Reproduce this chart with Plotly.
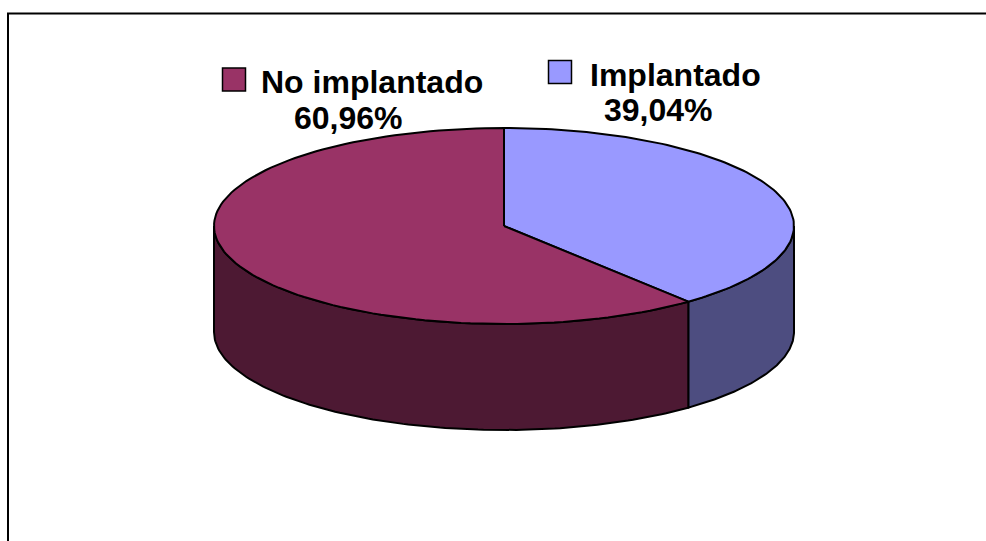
import numpy as np
import plotly.graph_objects as go

labels = ["Implantado", "No implantado"]
shares = [39.04, 60.96]
top_colors = ["#9999FF", "#993366"]
side_colors = ["#4D4D80", "#4D1933"]

# pie geometry in page pixels
cx, cy, rx, ry, depth = 504, 226, 290, 98, 106


def rim(a0, a1, n=120):
    t = np.radians(np.linspace(a0, a1, n))
    return cx + rx * np.sin(t), cy - ry * np.cos(t)


fig = go.Figure()
outline = dict(color="black", width=2)

# start at 12 o'clock and go clockwise
start = 0
for name, share, top, side in zip(labels, shares, top_colors, side_colors):
    end = start + share * 3.6
    # visible wall is only the front half of the rim
    a0, a1 = max(start, 90), min(end, 270)
    if a1 > a0:
        x, y = rim(a0, a1)
        fig.add_trace(go.Scatter(
            x=np.r_[x, x[::-1], x[0]], y=np.r_[y, y[::-1] + depth, y[0]],
            fill="toself", fillcolor=side, mode="lines", line=outline,
        ))
    x, y = rim(start, end)
    fig.add_trace(go.Scatter(
        x=np.r_[cx, x, cx], y=np.r_[cy, y, cy],
        fill="toself", fillcolor=top, mode="lines", line=outline,
    ))
    start = end

# legend squares
fig.add_trace(go.Scatter(
    x=[560, 234], y=[72, 79.5], mode="markers",
    marker=dict(symbol="square", size=23, color=top_colors, line=dict(color="black", width=1.5)),
))

name_pos = [(675, 75), (372, 82)]
pct_pos = [(658, 110), (348, 118)]
for name, share, p1, p2 in zip(labels, shares, name_pos, pct_pos):
    for txt, p in ((name, p1), (f"{share:.2f}%".replace(".", ","), p2)):
        fig.add_annotation(
            x=p[0], y=p[1], text=f"<b>{txt}</b>", showarrow=False,
            xanchor="center", yanchor="middle",
            font=dict(family="Liberation Sans", size=32, color="black"),
        )

# chart frame, only top and left edges fall inside the picture
fig.add_shape(type="rect", x0=8, y0=13.5, x1=1200, y1=800, line=dict(color="black", width=2), layer="below")

fig.update_xaxes(range=[0, 986], visible=False)
fig.update_yaxes(range=[541, 0], visible=False)
fig.update_layout(
    width=986, height=541, margin=dict(l=0, r=0, t=0, b=0),
    paper_bgcolor="white", plot_bgcolor="white", showlegend=False,
)
fig.write_html(
    "out.html",
    config={"displayModeBar": False},
    post_script="document.body.style.margin='0';document.body.style.overflow='hidden';",
)
